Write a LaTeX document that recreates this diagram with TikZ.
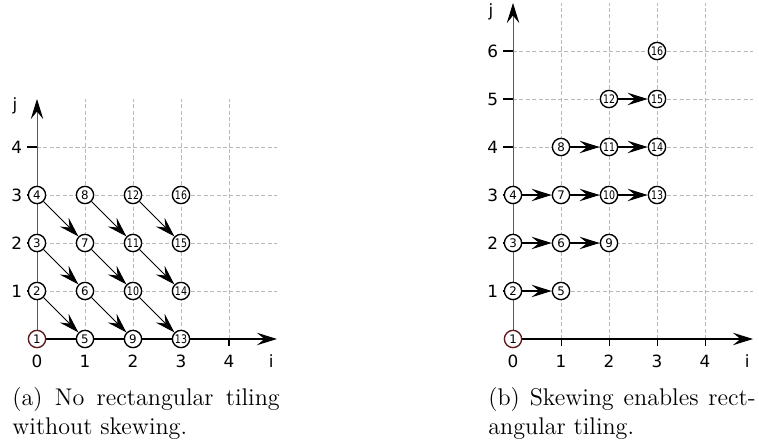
\documentclass[tikz,border=0pt]{standalone}
\usepackage{fontspec}
\usepackage{graphicx}
\newfontfamily\axfont{DejaVu Sans}
\usetikzlibrary{arrows.meta}
\definecolor{startred}{RGB}{92,28,28}
\newcommand\ptnum[1]{\ifnum#1>9 \scalebox{0.8}[1]{#1}\else#1\fi}

\begin{document}
\begin{tikzpicture}[>={Stealth[length=4.2mm, width=2.6mm, inset=1.6mm]},
  pt/.style={draw, circle, fill=white, inner sep=0pt, minimum size=0.36cm, line width=0.8pt, font=\axfont\fontsize{7}{8}\selectfont},
  gridline/.style={gray!55, dash pattern=on 2.4pt off 1.4pt, line width=0.4pt},
  ticklbl/.style={font=\axfont\fontsize{10}{12}\selectfont, inner sep=0pt},
  captxt/.style={font=\fontsize{14.3}{17.5}\selectfont, anchor=base west, inner sep=0pt},
  jaxis/.style={-{Stealth[length=4.2mm, width=2.6mm, inset=1.6mm, black]}, black!65, line width=0.5pt},
  dep/.style={->, line width=0.6pt}]
  \useasboundingbox (-0.771,-2.146) rectangle (15.042,7.0625);
  % (a) without skewing
  \foreach \x in {1,...,4} \draw[gridline] (\x,0) -- (\x,5);
  \foreach \y in {1,...,4} {
    \draw[gridline] (0,\y) -- (5,\y);
    \draw[line width=0.6pt] (-0.2,\y) -- (0,\y);
    \node[ticklbl] (aj\y) at (-0.42,\y) {\y};}
  \foreach \x in {0,...,4} {
    \draw[line width=0.6pt] (\x,0) -- (\x,-0.15);
    \node[ticklbl] (ai\x) at (\x,-0.46) {\x};}
  \draw[jaxis] (0,0) -- (0,5);
  \draw[->, line width=0.6pt] (0,0) -- (5,0);
  \node[ticklbl] (ailbl) at (4.88,-0.46) {i};
  \node[ticklbl] (ajlbl) at (-0.46,4.85) {j};
  \foreach \i in {0,...,3} \foreach \j in {0,...,3} {
    \pgfmathtruncatemacro\n{4*\i+\j+1}
    \ifnum\n=1 \def\ptcol{startred}\else\def\ptcol{black}\fi
    \node[pt, draw=\ptcol] (a\n) at (\i,\j) {\ptnum{\n}};}
  \foreach \i in {0,1,2} \foreach \j in {1,2,3} {
    \pgfmathtruncatemacro\s{4*\i+\j+1}
    \pgfmathtruncatemacro\t{\s+3}
    \draw[dep] (a\s) -- (a\t);}
  \node[captxt] (capa) at (-0.52,-1.38) {\makebox[5.57cm][s]{(a) No rectangular tiling}};
  \node[captxt] (capa2) at (-0.52,-1.98) {without skewing.};
  % (b) skewed
  \begin{scope}[xshift=9.917cm]
    \foreach \x in {1,...,4} \draw[gridline] (\x,0) -- (\x,7);
    \foreach \y in {1,...,6} {
      \draw[gridline] (0,\y) -- (5,\y);
      \draw[line width=0.6pt] (-0.2,\y) -- (0,\y);
      \node[ticklbl] (bj\y) at (-0.42,\y) {\y};}
    \foreach \x in {0,...,4} {
      \draw[line width=0.6pt] (\x,0) -- (\x,-0.15);
      \node[ticklbl] (bi\x) at (\x,-0.46) {\x};}
    \draw[jaxis] (0,0) -- (0,7);
    \draw[->, line width=0.6pt] (0,0) -- (5,0);
    \node[ticklbl] (bilbl) at (4.88,-0.46) {i};
    \node[ticklbl] (bjlbl) at (-0.46,6.81) {j};
    \foreach \i in {0,...,3} \foreach \j in {0,...,3} {
      \pgfmathtruncatemacro\n{4*\i+\j+1}
      \pgfmathtruncatemacro\h{\i+\j}
      \ifnum\n=1 \def\ptcol{startred}\else\def\ptcol{black}\fi
      \node[pt, draw=\ptcol] (b\n) at (\i,\h) {\ptnum{\n}};}
    \foreach \i in {0,1,2} \foreach \j in {1,2,3} {
      \pgfmathtruncatemacro\s{4*\i+\j+1}
      \pgfmathtruncatemacro\t{\s+3}
      \draw[dep] (b\s) -- (b\t);}
    \node[captxt] (capb) at (-0.52,-1.38) {\makebox[5.57cm][s]{(b) Skewing enables rect-}};
    \node[captxt] (capb2) at (-0.52,-1.98) {angular tiling.};
  \end{scope}
\end{tikzpicture}
\end{document}
